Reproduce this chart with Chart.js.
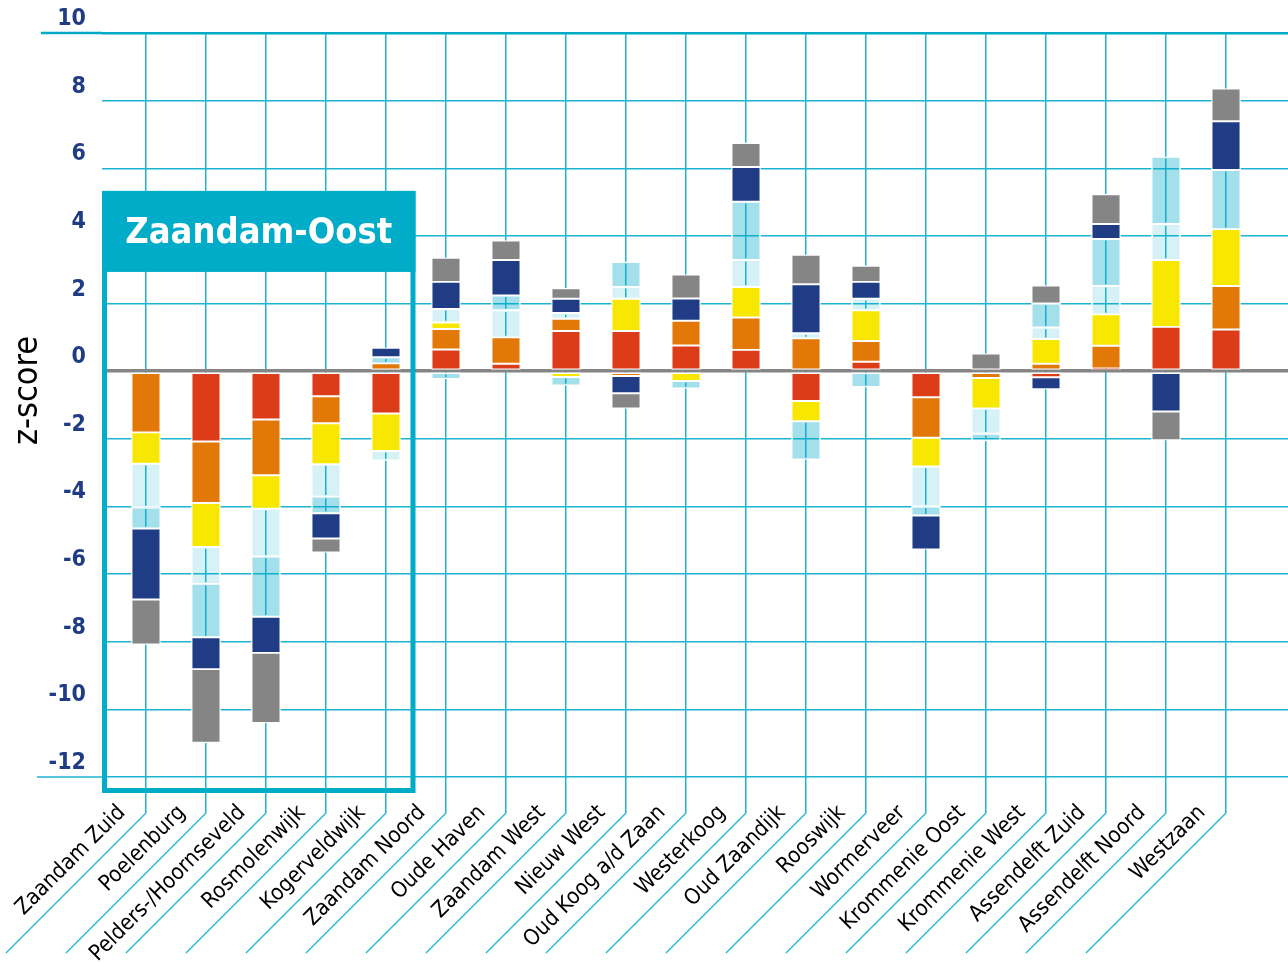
<!DOCTYPE html>
<html>
<head>
<meta charset="utf-8">
<script src="https://cdn.jsdelivr.net/npm/chart.js@4.4.0/dist/chart.umd.min.js"></script>
<style>
  html, body { margin: 0; padding: 0; background: #fff; }
</style>
</head>
<body>
<canvas id="grafico" width="1288" height="963"></canvas>
<script>
// wijken (categorieën)
const wijken = [
  "Zaandam Zuid", "Poelenburg", "Pelders-/Hoornseveld", "Rosmolenwijk", "Kogerveldwijk",
  "Zaandam Noord", "Oude Haven", "Zaandam West", "Nieuw West", "Oud Koog a/d Zaan",
  "Westerkoog", "Oud Zaandijk", "Rooswijk", "Wormerveer", "Krommenie Oost",
  "Krommenie West", "Assendelft Zuid", "Assendelft Noord", "Westzaan"
];

// z-score per component (volgorde van stapelen)
const rood      = [null, -2.08, -1.43, -0.74, -1.25, 0.64, 0.22, 1.19, 1.19, 0.76, 0.63, -0.88, 0.28, -0.77, null, -0.18, 0.08, 1.31, 1.23];
const oranje    = [-1.81, -1.82, -1.65, -0.80, 0.23, 0.61, 0.78, 0.36, -0.14, 0.73, 0.96, 0.97, 0.61, -1.20, -0.20, 0.22, 0.67, null, 1.29];
const geel      = [-0.93, -1.30, -0.99, -1.21, -1.11, 0.19, null, -0.17, 0.95, -0.29, 0.90, -0.60, 0.91, -0.85, -0.90, 0.73, 0.93, 1.98, 1.68];
const lichtblauw = [-1.29, -1.09, -1.41, -0.96, -0.28, 0.40, 0.80, 0.17, 0.35, null, 0.80, 0.15, 0.34, -1.18, -0.75, 0.34, 0.84, 1.06, null];
const blauw     = [-0.62, -1.58, -1.78, -0.49, 0.18, -0.23, 0.44, -0.25, 0.74, -0.22, 1.72, -1.13, -0.47, -0.27, -0.21, 0.71, 1.39, 1.99, 1.75];
const donkerblauw = [-2.10, -0.94, -1.07, -0.75, 0.28, 0.80, 1.05, 0.42, -0.51, 0.66, 1.03, 1.45, 0.50, -1.00, null, -0.35, 0.44, -1.19, 1.44];
const grijs     = [-1.33, -2.18, -2.07, -0.41, null, 0.71, 0.57, 0.31, -0.45, 0.71, 0.71, 0.87, 0.48, null, 0.52, 0.53, 0.88, -0.85, 0.97];

const yTicks = [10, 8, 6, 4, 2, 0, -2, -4, -6, -8, -10, -12];

const CYAAN = "#1cb4d0";
const FONT_NUM = "'DejaVu Sans Condensed', 'DejaVu Sans', sans-serif";
const FONT_LBL = "'Liberation Sans Narrow', 'DejaVu Sans Condensed', sans-serif";

const reeks = (data, kleur) => ({
  data: data.map((v, i) => ({ x: i, y: v })),
  backgroundColor: kleur,
  borderColor: "#ffffff",
  borderWidth: 1.3,
  borderSkipped: false,
  barThickness: 29,
  clip: false
});

// extra tekenwerk: schuine lijnen, verlengde rasterlijnen, kader Zaandam-Oost
const extras = {
  id: "extras",
  afterDatasetsDraw(chart) {
    const { ctx, chartArea, scales: { x, y } } = chart;
    ctx.save();
    // schuine lijnen onder de labels
    ctx.strokeStyle = CYAAN;
    ctx.lineWidth = 1.2;
    const yStart = chartArea.bottom + 36;
    wijken.forEach((w, i) => {
      const px = x.getPixelForValue(i);
      ctx.beginPath();
      ctx.moveTo(px, yStart);
      ctx.lineTo(px - 140, yStart + 140);
      ctx.stroke();
    });
    // verlengde lijnen bij 10 en -12
    ctx.lineWidth = 2.5;
    ctx.strokeStyle = "#00a9c6";
    ctx.beginPath();
    ctx.moveTo(41, y.getPixelForValue(10));
    ctx.lineTo(chartArea.left, y.getPixelForValue(10));
    ctx.stroke();
    ctx.lineWidth = 1.5;
    ctx.strokeStyle = CYAAN;
    ctx.beginPath();
    ctx.moveTo(37, y.getPixelForValue(-12));
    ctx.lineTo(chartArea.left, y.getPixelForValue(-12));
    ctx.stroke();

    // kader Zaandam-Oost
    const links = chartArea.left;
    const rechts = x.getPixelForValue(4) + 29.5;
    const boven = y.getPixelForValue(5.33);
    const onder = chartArea.bottom + 16;
    ctx.strokeStyle = "#00acc8";
    ctx.lineWidth = 5;
    ctx.strokeRect(links + 2.5, boven + 2.5, rechts - links - 5, onder - boven - 5);
    ctx.fillStyle = "#00acc8";
    ctx.fillRect(links, boven, rechts - links, 81);
    ctx.fillStyle = "#ffffff";
    ctx.font = "bold 36px " + FONT_NUM;
    ctx.textAlign = "center";
    ctx.textBaseline = "middle";
    ctx.fillText("Zaandam-Oost", (links + rechts) / 2, boven + 43);
    ctx.restore();
  }
};

new Chart(document.getElementById("grafico"), {
  type: "bar",
  data: {
    datasets: [
      reeks(rood, "#dc3d18"),
      reeks(oranje, "#e27808"),
      reeks(geel, "#f8e700"),
      reeks(lichtblauw, "rgba(0, 172, 200, 0.16)"),
      reeks(blauw, "rgba(0, 170, 200, 0.36)"),
      reeks(donkerblauw, "#1f3c85"),
      reeks(grijs, "#858585")
    ]
  },
  options: {
    responsive: false,
    animation: false,
    layout: { padding: { top: 33, right: 0, left: 0, bottom: 0 } },
    plugins: { legend: { display: false }, tooltip: { enabled: false } },
    scales: {
      x: {
        type: "linear",
        stacked: true,
        offset: false,
        min: -0.733,
        max: 19.033,
        afterBuildTicks: (scale) => { scale.ticks = wijken.map((w, i) => ({ value: i })); },
        afterFit: (scale) => { scale.height = 186; },
        border: { display: false },
        grid: { offset: false, color: CYAAN, lineWidth: 1.5, tickLength: 36 },
        ticks: {
          autoSkip: false,
          minRotation: 45,
          maxRotation: 45,
          padding: -13,
          labelOffset: -24,
          color: "#000",
          font: { family: FONT_LBL, size: 22 },
          callback: (v) => wijken[v]
        }
      },
      y: {
        stacked: true,
        min: -12,
        max: 10,
        afterBuildTicks: (scale) => { scale.ticks = yTicks.map(v => ({ value: v })); },
        afterFit: (scale) => { scale.width = 102; },
        border: { display: false },
        grid: {
          drawTicks: false,
          color: (c) => c.tick.value === 0 ? "#858585" : (c.tick.value === 10 ? "#00a9c6" : CYAAN),
          lineWidth: (c) => c.tick.value === 0 ? 3.5 : (c.tick.value === 10 ? 2.5 : 1.5)
        },
        title: {
          display: true,
          text: "   z-score",
          color: "#000",
          font: { family: FONT_NUM, size: 34 },
          padding: { top: 8, bottom: 0 }
        },
        ticks: {
          padding: 16,
          labelOffset: -14,
          color: "#1f3c85",
          font: { family: FONT_NUM, size: 23, weight: "bold" }
        }
      }
    }
  },
  plugins: [extras]
});
</script>
</body>
</html>
